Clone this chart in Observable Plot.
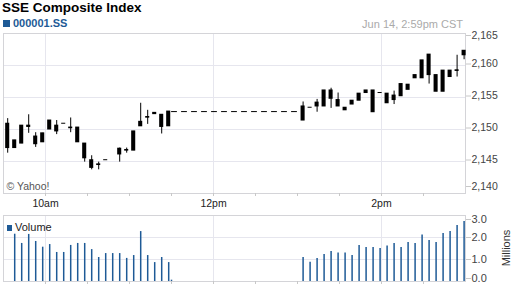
<!DOCTYPE html>
<html><head><meta charset="utf-8">
<script src="https://cdn.jsdelivr.net/npm/d3@7"></script>
<script src="https://cdn.jsdelivr.net/npm/@observablehq/plot@0.6"></script>
<style>
body{margin:0;background:#fff;font-family:"Liberation Sans",Arial,sans-serif;}
#wrap{position:relative;width:512px;height:288px;overflow:hidden;background:#fff;}
#title{position:absolute;left:2px;top:1px;font-size:13.5px;line-height:1;font-weight:bold;color:#000;white-space:nowrap;}
#sym{position:absolute;left:3px;top:18px;font-size:11px;line-height:1;font-weight:bold;color:#1e5a96;white-space:nowrap;}
#sym .sq{display:inline-block;width:7px;height:7px;background:#1e5a96;margin-right:3px;vertical-align:0px;}
#stamp{position:absolute;right:49px;top:18.5px;font-size:11px;line-height:1;color:#aaa;white-space:nowrap;}
#main{position:absolute;left:0;top:28px;}
#vol{position:absolute;left:0;top:212px;}
#vlegend{position:absolute;left:7px;top:222px;font-size:11px;line-height:1;color:#222;white-space:nowrap;}
#vlegend .sq{display:inline-block;width:5px;height:6px;background:#1e5a96;margin-right:3px;vertical-align:0px;}
#millions{position:absolute;left:476px;top:242px;width:60px;text-align:center;font-size:11px;line-height:12px;color:#333;transform:rotate(-90deg);transform-origin:center;}
</style></head><body>
<div id="wrap">
  <div id="title">SSE Composite Index</div>
  <div id="sym"><span class="sq"></span>000001.SS</div>
  <div id="stamp">Jun 14, 2:59pm CST</div>
  <div id="main"></div>
  <div id="vol"></div>
  <div id="vlegend"><span class="sq"></span>Volume</div>
  <div id="millions">Millions</div>
</div>
<script>
// ---- data ----
const candleTimes = ["09:33","09:38","09:43","09:48","09:53","09:58","10:03","10:08","10:13","10:18","10:23","10:28",
  "10:33","10:38","10:43","10:48","10:53","10:58","11:03","11:08","11:13","11:18","11:23","11:28",
  "13:04","13:09","13:14","13:19","13:24","13:29","13:34","13:39","13:44","13:49","13:54","13:59",
  "14:04","14:09","14:14","14:19","14:24","14:29","14:34","14:39","14:44","14:49","14:54","14:59"];
const open = [2150.9,2147.1,2147.8,2150.6,2148.9,2148.0,2150.0,2150.6,2150.9,2150.3,2150.3,2147.8,
  2145.2,2144.55,2145.2,null,2146.1,2146.7,2146.7,2150.5,2151.85,2152.4,2152.3,2150.5,
  2153.6,2153.4,2153.6,2153.6,2156.1,2154.6,2153.4,2153.9,2154.5,2155.7,2156.1,2155.7,
  2154.1,2155.3,2155.2,2156.2,2158.0,2158.0,2161.7,2158.5,2155.9,2158.2,2159.15,2161.6];
const close = [2147.1,2148.3,2150.6,2150.4,2147.7,2149.4,2151.4,2149.7,2150.9,2150.2,2148.0,2145.5,
  2144.0,2144.45,2145.2,null,2147.0,2146.8,2149.7,2151.2,2151.95,2152.6,2150.4,2152.8,
  2151.4,2153.4,2154.2,2156.1,2154.8,2153.6,2153.0,2154.5,2155.6,2156.1,2152.7,2155.7,
  2155.6,2154.6,2157.1,2157.0,2158.5,2160.8,2158.5,2155.9,2159.2,2159.2,2159.25,2162.3];
const high = [2151.7,2148.3,2150.6,2152.3,2149.5,2149.4,2151.4,2151.4,2150.9,2151.8,2150.3,2147.8,
  2145.9,2144.9,2145.2,null,2147.1,2147.1,2149.7,2154.1,2153.0,2152.6,2152.3,2152.8,
  2154.3,2153.4,2154.7,2156.1,2156.45,2155.7,2153.4,2154.5,2155.6,2156.1,2156.1,2155.7,
  2155.6,2156.0,2157.1,2157.0,2158.5,2160.8,2161.7,2158.5,2159.2,2159.2,2161.6,2162.3];
const low = [2146.3,2147.1,2147.8,2149.4,2147.2,2148.0,2150.0,2149.2,2150.9,2149.5,2148.0,2144.9,
  2143.7,2143.7,2145.2,null,2144.9,2146.3,2146.7,2150.5,2150.8,2152.4,2149.3,2150.5,
  2151.4,2153.4,2152.7,2153.6,2153.3,2153.6,2153.0,2153.9,2154.5,2155.7,2152.7,2155.7,
  2154.1,2153.9,2155.2,2156.2,2158.0,2158.0,2157.1,2155.9,2155.9,2158.2,2158.2,2160.9];

const volTimes = ["09:38","09:43","09:48","09:53","09:58","10:03","10:08","10:13","10:18","10:23","10:28","10:33",
  "10:38","10:43","10:48","10:53","10:58","11:03","11:08","11:13","11:18","11:23","11:28","11:30",
  "13:04","13:09","13:14","13:19","13:24","13:29","13:34","13:39","13:44","13:49","13:54","13:59",
  "14:04","14:09","14:14","14:19","14:24","14:29","14:34","14:39","14:44","14:49","14:54","14:59"];
const volume = [2.15,1.73,2.14,1.82,1.56,1.68,1.32,1.32,1.64,1.73,1.73,1.45,
  1.09,1.27,1.27,1.27,1.05,1.18,2.27,1.18,0.86,1.09,0.86,0.06,
  1.09,0.88,1.05,1.23,1.36,1.29,1.29,1.18,1.64,1.55,1.55,1.50,
  1.61,1.73,1.55,1.77,1.73,2.11,1.86,1.77,2.18,2.27,2.55,2.73];

const lunchTimes = ["11:30","13:00"];
const sessionSpan = ["09:30","15:00"];
const halfHourTicks = ["10:00","10:30","11:00","11:30","12:00","12:30","13:00","13:30","14:00","14:30"];
const labelTimes = ["10:00","12:00","14:00"];
const labelTexts = ["10am","12pm","2pm"];
const priceTicks = [2140,2145,2150,2155,2160,2165];
const priceGrid = [2145,2150,2155,2160];
const volTicks = [0,1,2,3];
const volGrid = [1,2];

// ---- helpers ----
const toMin = s => { const [h,m] = s.split(":").map(Number); return (h - 9) * 60 + m - 30; };
const FONT = '"Liberation Sans", Arial, sans-serif';
const GRID = "#e6e6ee", FRAME = "#d4d4d8", TICK = "#c8c8c8", BLUE = "#1e5a96";

const candles = candleTimes.map((t, i) => ({m: toMin(t), o: open[i], c: close[i], h: high[i], l: low[i]}))
  .filter(d => d.o != null);
const vols = volTimes.map((t, i) => ({m: toMin(t), v: volume[i]}));
const lunch = lunchTimes.map(t => ({m: toMin(t), p: close[candleTimes.indexOf("11:28")]}));
const xDomain = sessionSpan.map(toMin);
const labelMap = new Map(labelTimes.map((t, i) => [toMin(t), labelTexts[i]]));
const fmtPrice = d3.format(",");

const yAx = (ticks, dy, fmt, extra = {}) => Plot.axisY(ticks, {anchor: "right", tickSize: 5, tickPadding: 1,
  tickFormat: fmt, stroke: TICK, fill: "#444", label: null, dy, ...extra});

const mainChart = Plot.plot({
  width: 512, height: 186,
  marginTop: 5, marginBottom: 21, marginLeft: 3, marginRight: 47,
  style: {fontFamily: FONT, fontSize: "10px", background: "transparent", overflow: "visible"},
  x: {domain: xDomain, label: null},
  y: {domain: [2140, 2165], label: null},
  marks: [
    Plot.ruleY(priceGrid, {stroke: GRID}),
    Plot.ruleX(labelTimes.map(toMin), {stroke: GRID}),
    Plot.frame({stroke: FRAME}),
    Plot.line(lunch, {x: "m", y: "p", stroke: "#000", strokeWidth: 1, strokeDasharray: "5,5"}),
    Plot.ruleX(candles, {x: "m", y1: "l", y2: "h", stroke: "#000", strokeWidth: 1}),
    Plot.rect(candles, {x1: d => d.m - 1.45, x2: d => d.m + 1.45,
      y1: d => Math.max(d.o, d.c), y2: d => Math.min(d.o, d.c),
      insetTop: -0.5, insetBottom: -0.5, fill: "#000"}),
    yAx(priceTicks.filter(d => d > 2140 && d < 2165), -1.5, fmtPrice, {fontSize: 10.5}),
    yAx(priceTicks.filter(d => d === 2165), 2, fmtPrice, {fontSize: 10.5}),
    yAx(priceTicks.filter(d => d === 2140), -7, fmtPrice, {fontSize: 10.5}),
    Plot.axisX(halfHourTicks.map(toMin), {anchor: "bottom", tickSize: 3, tickPadding: 3, label: null,
      tickFormat: d => labelMap.get(d) ?? "", stroke: TICK, fill: "#222", fontSize: 10.5}),
    Plot.text(["© Yahoo!"], {frameAnchor: "bottom-left", textAnchor: "start", lineAnchor: "bottom",
      dx: 3, dy: -4, fill: "#555", fontSize: 10.5})
  ]
});
document.getElementById("main").append(mainChart);

const volChart = Plot.plot({
  width: 512, height: 76,
  marginTop: 3, marginBottom: 7, marginLeft: 3, marginRight: 47,
  style: {fontFamily: FONT, fontSize: "11px", background: "transparent", overflow: "visible"},
  x: {domain: xDomain, label: null},
  y: {domain: [0, 3], label: null},
  marks: [
    Plot.ruleY(volGrid, {stroke: GRID}),
    Plot.ruleX(labelTimes.map(toMin), {stroke: GRID}),
    Plot.frame({stroke: FRAME}),
    Plot.ruleX(vols, {x: "m", y1: 0, y2: "v", stroke: BLUE, strokeWidth: 1.5}),
    yAx(volTicks.filter(d => d === 1 || d === 2), 0, d3.format(".1f")),
    yAx(volTicks.filter(d => d === 3), 4, d3.format(".1f")),
    yAx(volTicks.filter(d => d === 0), -3, d3.format(".1f")),
    Plot.axisX(halfHourTicks.map(toMin), {anchor: "bottom", tickSize: 3, tickFormat: () => "", stroke: TICK, label: null})
  ]
});
document.getElementById("vol").append(volChart);
</script>
</body></html>
